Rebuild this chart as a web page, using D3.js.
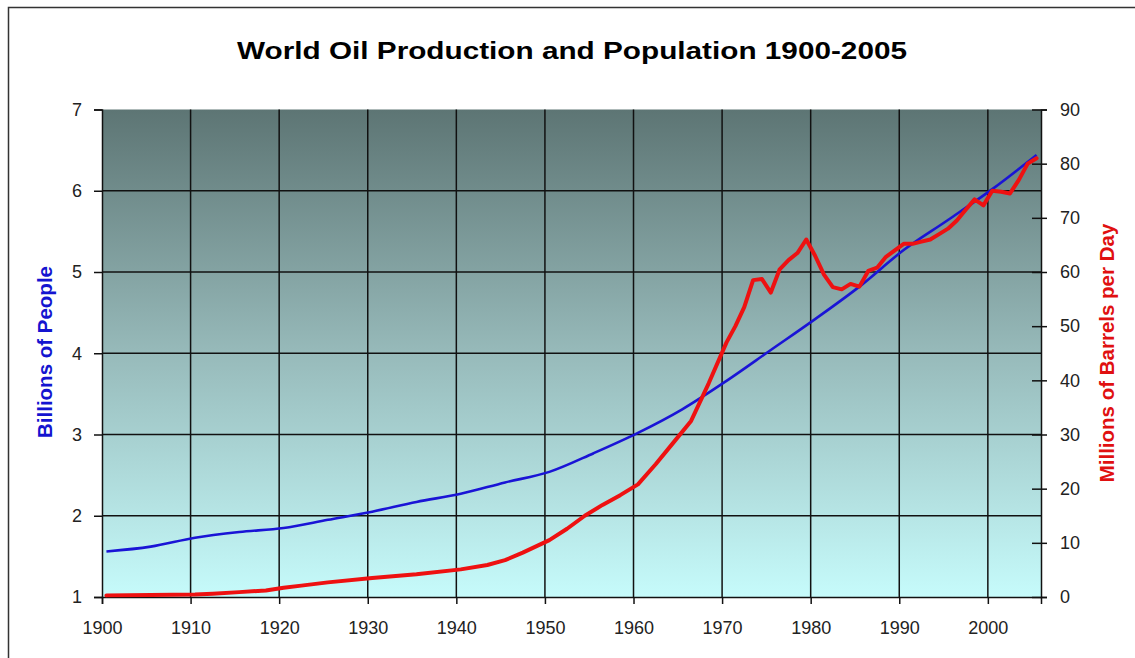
<!DOCTYPE html>
<html><head><meta charset="utf-8">
<script src="https://cdn.jsdelivr.net/npm/d3@7"></script>
<style>html,body{margin:0;padding:0;background:#fff;}svg{display:block;}</style>
</head><body>
<script>
// ---- data ----
const popYears = [1900,1905,1910,1915,1920,1925,1930,1935,1940,1945,1950,1955,1960,1965,1970,1975,1980,1985,1990,1995,2000,2005];
const popBillions = [1.56,1.62,1.73,1.80,1.85,1.95,2.05,2.17,2.27,2.41,2.54,2.77,3.02,3.31,3.66,4.04,4.42,4.82,5.27,5.64,6.02,6.44];

const oilYears = [1900,1905,1910,1912,1915,1918,1920,1922,1925,1930,1935,1940,1943,1945,1947,1950,1952,1954,1956,1958,1960,1962,1964,1966,1968,1970,1971,1972,1973,1974,1975,1976,1977,1978,1979,1980,1981,1982,1983,1984,1985,1986,1987,1988,1989,1990,1991,1992,1993,1994,1995,1996,1997,1998,1999,2000,2001,2002,2003,2004,2005];
const oilMbd = [0.3,0.35,0.45,0.6,0.9,1.2,1.7,2.1,2.7,3.5,4.2,5.1,5.9,6.8,8.2,10.5,12.6,15.0,17.0,18.8,20.8,24.5,28.5,32.5,39.5,47.0,50.0,53.5,58.5,58.7,56.2,60.5,62.2,63.5,66.0,63.0,59.5,57.2,56.8,57.8,57.3,60.2,60.8,62.8,64.0,65.2,65.2,65.6,66.0,67.0,68.0,69.5,71.5,73.4,72.3,75.0,74.8,74.5,77.0,80.0,81.0];

const xTicks = [1900,1910,1920,1930,1940,1950,1960,1970,1980,1990,2000];
const leftTicks = [1,2,3,4,5,6,7];
const rightTicks = [0,10,20,30,40,50,60,70,80,90];

const title = "World Oil Production and Population 1900-2005";
const leftLabel = "Billions of People";
const rightLabel = "Millions of Barrels per Day";

// ---- layout ----
const W = 1135, H = 658;
const plot = {left:102, right:1041, top:109.5, bottom:597};
const font = "'Liberation Sans', Arial, sans-serif";

const svg = d3.select("body").append("svg").attr("width", W).attr("height", H);

// outer frame
svg.append("path").attr("d", `M8.5,${H} L8.5,7.5 L${W},7.5`).attr("fill","none").attr("stroke","#333").attr("stroke-width",1.5);

const x = d3.scaleLinear().domain([1900, 2006]).range([plot.left, plot.right]);
const yL = d3.scaleLinear().domain([1, 7]).range([plot.bottom, plot.top]);
const yR = d3.scaleLinear().domain([0, 90]).range([plot.bottom, plot.top]);
const half = (x(1901) - x(1900)) / 2;

// gradient background
const defs = svg.append("defs");
const grad = defs.append("linearGradient").attr("id","bg").attr("x1",0).attr("y1",0).attr("x2",0).attr("y2",1);
grad.append("stop").attr("offset","0%").attr("stop-color","#5d7574");
grad.append("stop").attr("offset","50%").attr("stop-color","#97baba");
grad.append("stop").attr("offset","100%").attr("stop-color","#c6fbfb");
svg.append("rect").attr("x",plot.left).attr("y",plot.top)
  .attr("width",plot.right-plot.left).attr("height",plot.bottom-plot.top).attr("fill","url(#bg)");

// grid
const grid = svg.append("g").attr("stroke","#111").attr("stroke-width",1.5);
grid.selectAll(".gv").data(xTicks.slice(1)).join("line")
  .attr("x1",d=>x(d)).attr("x2",d=>x(d)).attr("y1",plot.top).attr("y2",plot.bottom);
grid.selectAll(".gh").data(leftTicks.slice(1,-1)).join("line")
  .attr("x1",plot.left).attr("x2",plot.right).attr("y1",d=>yL(d)).attr("y2",d=>yL(d));

// axes
const tickFont = g => g.selectAll("text").attr("font-family",font).attr("font-size",18).attr("fill","#222");
const xAxis = svg.append("g").attr("transform",`translate(0,${plot.bottom})`)
  .call(d3.axisBottom(x).tickValues(xTicks).tickFormat(d3.format("d")).tickSizeOuter(0).tickSize(7).tickPadding(17));
xAxis.call(tickFont);
const lAxis = svg.append("g").attr("transform",`translate(${plot.left},0)`)
  .call(d3.axisLeft(yL).tickValues(leftTicks).tickFormat(d3.format("d")).tickSizeOuter(0).tickSize(8).tickPadding(12));
lAxis.call(tickFont);
const rAxis = svg.append("g").attr("transform",`translate(${plot.right},0)`)
  .call(d3.axisRight(yR).tickValues(rightTicks).tickFormat(d3.format("d")).tickSizeOuter(0).tickSize(6).tickPadding(13));
rAxis.call(tickFont);
rAxis.selectAll(".tick line").attr("x1",-9);
[xAxis,lAxis,rAxis].forEach(a=>{a.selectAll("line,path").attr("stroke","#111").attr("stroke-width",1.5);});

// lines
const popData = popYears.map((yr,i)=>({yr, v:popBillions[i]}));
const oilData = oilYears.map((yr,i)=>({yr, v:oilMbd[i]}));
svg.append("path").datum(popData).attr("fill","none").attr("stroke","#1a14d6").attr("stroke-width",2.6)
  .attr("stroke-linejoin","round")
  .attr("d", d3.line().curve(d3.curveMonotoneX).x(d=>x(d.yr)+half).y(d=>yL(d.v)));
svg.append("path").datum(oilData).attr("fill","none").attr("stroke","#ee1111").attr("stroke-width",4)
  .attr("stroke-linejoin","round").attr("stroke-linecap","round")
  .attr("d", d3.line().x(d=>x(d.yr)+half).y(d=>yR(d.v)));

// title & axis labels
svg.append("text").attr("x",572).attr("y",59).attr("text-anchor","middle")
  .attr("textLength",670).attr("lengthAdjust","spacingAndGlyphs")
  .attr("font-family",font).attr("font-weight","bold").attr("font-size",24).attr("fill","#000").text(title);
svg.append("text").attr("transform","translate(52,352) rotate(-90)").attr("text-anchor","middle")
  .attr("font-family",font).attr("font-weight","bold").attr("font-size",20.5).attr("fill","#1414d0").text(leftLabel);
svg.append("text").attr("transform","translate(1114,353) rotate(-90)").attr("text-anchor","middle")
  .attr("font-family",font).attr("font-weight","bold").attr("font-size",20.5).attr("fill","#e01010").text(rightLabel);
</script>
</body></html>
